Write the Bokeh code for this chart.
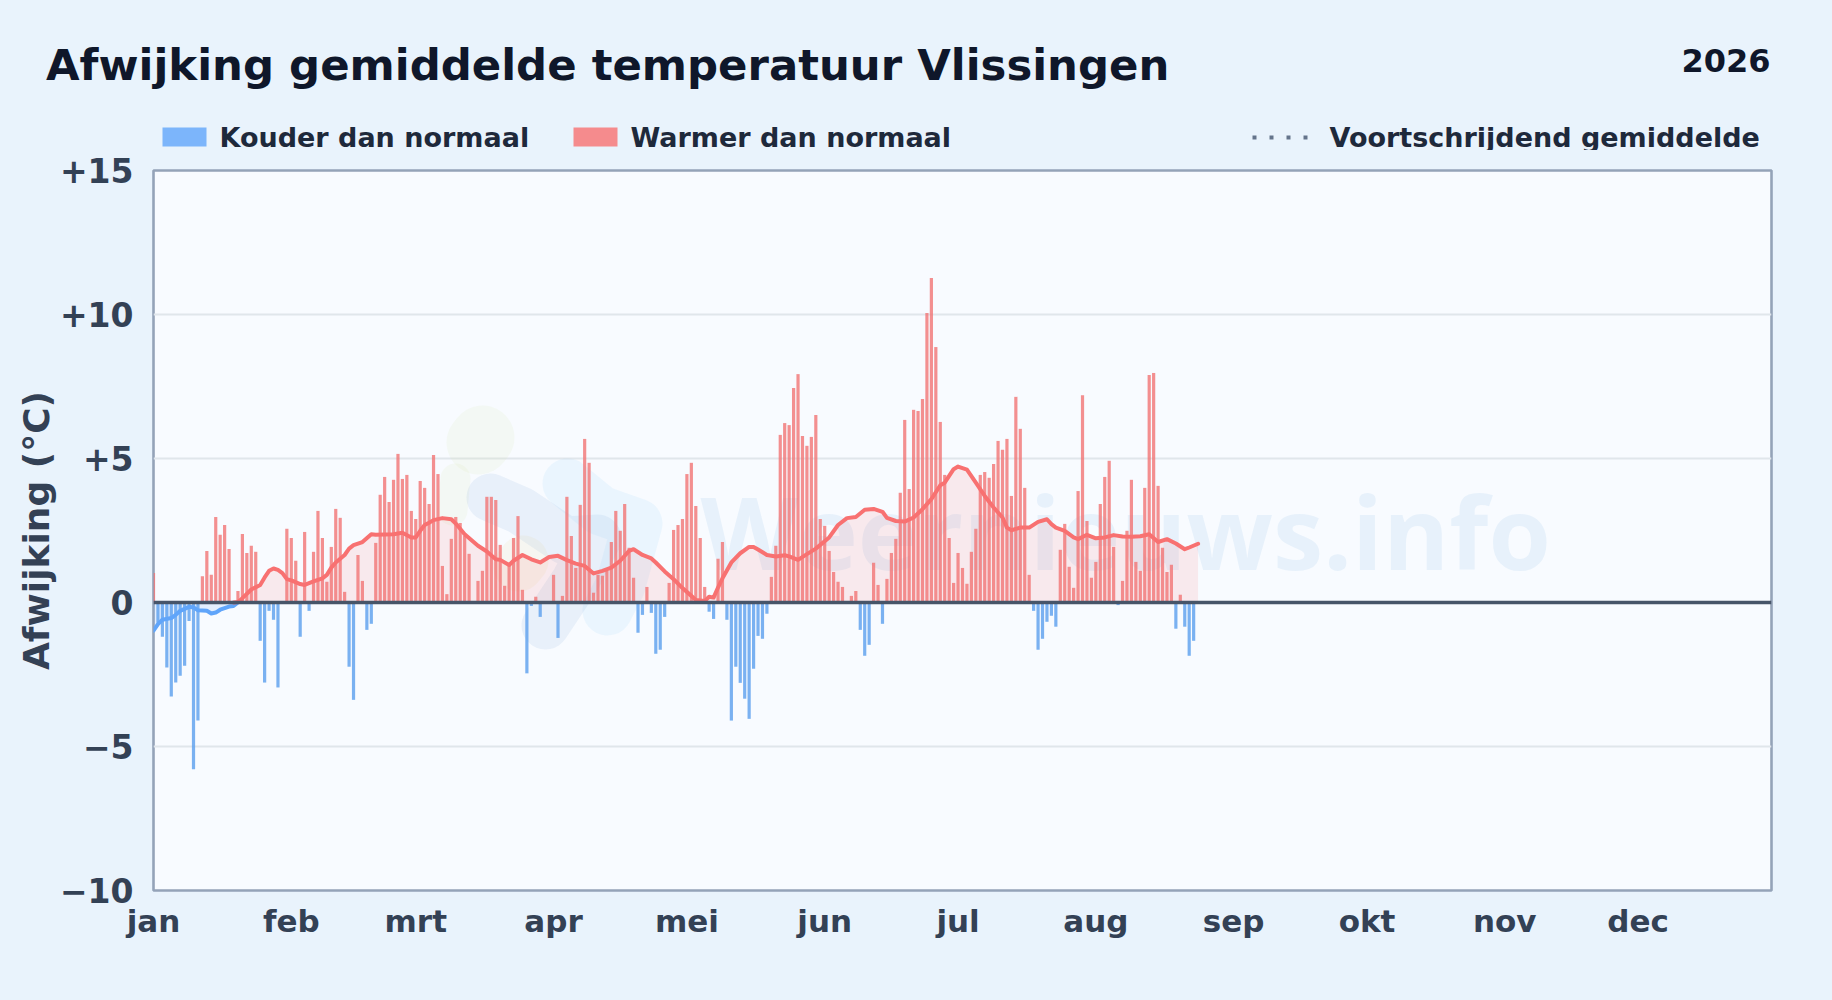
from bokeh.embed import file_html
from bokeh.resources import INLINE
from bokeh.plotting import figure
from bokeh.layouts import column
from bokeh.models import FixedTicker, Span, Range1d
from bokeh.core.properties import value
import numpy as np

MONTHS = ["jan", "feb", "mrt", "apr", "mei", "jun", "jul", "aug", "sep", "okt", "nov", "dec"]
MONTH_STARTS = [0, 31, 59, 90, 120, 151, 181, 212, 243, 273, 304, 334]
Y_TICKS = [-10, -5, 0, 5, 10, 15]
Y_LABELS = {-10: "\u221210", -5: "\u22125", 0: "0", 5: "+5", 10: "+10", 15: "+15"}

DEVIATION = [
    1.02, -0.7, -1.19, -2.26, -3.26, -2.78, -2.54, -2.2, -0.64, -5.79, -4.1,
    .91, 1.79, .96, 2.97, 2.35, 2.69, 1.86, 0, .40, 2.38, 1.72, 1.97, 1.76,
    -1.33, -2.78, -.29, -.6, -2.95, .05, 2.56, 2.24, 1.45, -1.19, 2.45, -.29, 1.76, 3.18, 2.24, .72,
    1.93, 3.25, 2.94, .37, -2.23, -3.38, 1.65, .75, -.95, -.74, 2.07, 3.74, 4.36, 3.49, 4.26, 5.16,
    4.29, 4.43, 3.18, 2.9, 4.22, 3.98, 3.42, 5.12, 4.46, 1.27, .29, 2.21, 2.97, 2.76, 2.31, 1.69,
    0, .75, 1.1, 3.67, 3.67, 3.56, 2.0, .58, 1.27, 2.24, 3.0, .44, -2.46, -.12, .2, -.5, 0, 0,
    .96, -1.23, .23, 3.67, 2.31, 1.2, 3.39, 5.68, 4.85, .34, .96, .93, 1.1, 2.1, 3.18, 2.49, 3.42,
    1.9, .86, -1.05, -.43, .54, -.36, -1.78, -1.64, -.5, .68, 2.52, 2.69, 2.9, 4.46, 4.85, 3.35,
    2.24, .54, -.32, -.57, 1.52, 2.1, -.6, -4.1, -2.23, -2.79, -3.34, -4.04, -2.3, -1.16, -1.26,
    -.39, .89, 1.97, 5.82, 6.23, 6.16, 7.45, 7.93, 5.78, 5.44, 5.75, 6.51, 2.9, 2.66, 1.79, 1.06,
    .72, .54, 0, .23, .4, -.95, -1.85, -1.47, 1.38, .61, -.74, .82, 1.72, 2.21, 3.81, 6.34, 3.94,
    6.69, 6.65, 7.07, 10.05, 11.27, 8.87, 6.27, 4.43, 2.24, .68, 1.72, 1.2, .65, 1.76, 2.56, 4.43,
    4.53, 4.33, 4.81, 5.61, 5.3, 5.68, 3.7, 7.14, 6.03, 3.98, .96, -.29, -1.64, -1.26, -.67, -.46,
    -.84, 1.83, 2.73, 1.24, .51, 3.87, 7.2, 2.83, .86, 1.41, 3.42, 4.36, 4.92, 1.93, -.09, .75,
    2.49, 4.26, 1.41, 1.1, 3.98, 7.9, 7.97, 4.05, 1.9, 1.06, 1.31, -.91, .27, -.84, -1.85, -1.33,
]

AVG_DAY = [0, 1, 2, 4, 5, 6, 8, 9, 10, 12, 13, 14, 15, 17, 18, 19, 20, 22, 24, 25, 26, 27, 28, 29, 30, 31,
           33, 34, 36, 38, 39, 40, 41, 43, 44, 45, 47, 49, 50, 54, 56, 58, 59, 60, 61, 62, 63, 65, 67, 68,
           70, 73, 75, 77, 78, 80, 81, 83, 85, 87, 89, 91, 93, 95, 97, 99, 101, 103, 105, 107, 108, 110,
           112, 113, 115, 117, 119, 121, 122, 124, 125, 126, 127, 128, 130, 132, 134, 135, 136, 138, 140,
           142, 143, 145, 147, 149, 152, 154, 156, 158, 160, 162, 164, 165, 167, 169, 171, 173, 175, 177,
           178, 180, 181, 183, 185, 187, 189, 191, 192, 193, 195, 197, 199, 201, 202, 203, 205, 207, 208,
           210, 212, 214, 216, 218, 220, 222, 224, 226, 228, 230, 232, 233, 235]
AVG_VAL = [-.98, -.75, -.6, -.54, -.43, -.29, -.15, -.17, -.27, -.29, -.38, -.35, -.25, -.14, -.12, .02, .15,
           .45, .61, .87, 1.1, 1.18, 1.13, 1.02, .81, .77, .64, .61, .73, .84, .96, 1.21, 1.39, 1.65, 1.87,
           1.99, 2.1, 2.37, 2.35, 2.37, 2.42, 2.26, 2.26, 2.49, 2.69, 2.77, 2.86, 2.93, 2.89, 2.74, 2.37,
           1.97, 1.77, 1.5, 1.48, 1.3, 1.45, 1.65, 1.5, 1.39, 1.58, 1.62, 1.47, 1.35, 1.27, 1.01, 1.1, 1.21,
           1.45, 1.79, 1.85, 1.65, 1.53, 1.39, 1.08, .81, .5, .23, .09, .05, .2, .17, .52, .84, 1.39, 1.71,
           1.93, 1.93, 1.84, 1.65, 1.6, 1.64, 1.6, 1.48, 1.68, 1.87, 2.26, 2.69, 2.93, 2.97, 3.22, 3.25,
           3.15, 2.94, 2.83, 2.81, 2.95, 3.24, 3.59, 4.07, 4.16, 4.63, 4.72, 4.61, 4.16, 3.7, 3.3, 2.95,
           2.6, 2.51, 2.6, 2.6, 2.8, 2.89, 2.72, 2.6, 2.49, 2.26, 2.2, 2.35, 2.23, 2.26, 2.34, 2.29, 2.28,
           2.3, 2.37, 2.1, 2.2, 2.05, 1.85, 1.91, 2.04]

# Decorative logo behind the chart: (colour, stroke width in px, page-pixel path)
LOGO = [
    ("#d5e8a8", 64, [(482, 437), (478, 442)]),
    ("#d5e8a8", 30, [(455, 478), (452, 510)]),
    ("#f2d48a", 50, [(523, 560), (518, 566)]),
    ("#7fa6d6", 48, [(490, 497), (520, 510), (565, 540), (597, 538), (575, 580), (545, 625)]),
    ("#8fcbf5", 50, [(567, 483), (600, 510), (637, 523), (620, 585), (607, 610)]),
]

BG = "#e9f3fc"
PLOT_BG = "#f8fbff"
RED = "#f87171"
BLUE = "#60a5fa"
W, H = 1832, 1000
HEAD = 150
LEFT, TOP, FW, FH = 153, 170, 1618, 720
XMAX = 364


def dx(px):
    return (px - LEFT) / FW * XMAX


def dy(py):
    return 15 - (py - TOP) / FH * 25


# ---------- header: title, year and legend ----------
h = figure(width=W, height=HEAD, x_range=Range1d(0, W), y_range=Range1d(HEAD, 0),
           output_backend="svg", toolbar_location=None, min_border=0,
           background_fill_color=BG, border_fill_color=BG, outline_line_color=None)
h.axis.visible = False
h.grid.visible = False


def head_text(x, y, s, size, color, align="left"):
    h.text(x=[x], y=[y - 0.42 * size], text=[s], text_font=value("DejaVu Sans"), text_font_style="bold",
           text_font_size=f"{size}px", text_color=color, text_align=align, text_baseline="alphabetic")


head_text(45.5, 82.5, "Afwijking gemiddelde temperatuur Vlissingen", 43.4, "#0f172a")
head_text(1770, 73.5, "2026", 32, "#0f172a", "right")
h.quad(left=[162], right=[206], top=[127], bottom=[146], fill_color=BLUE, fill_alpha=0.8, line_color=None)
head_text(219, 148, "Kouder dan normaal", 27, "#1e293b")
h.quad(left=[573], right=[617], top=[127], bottom=[146], fill_color=RED, fill_alpha=0.8, line_color=None)
head_text(630, 148, "Warmer dan normaal", 27, "#1e293b")
h.line([1252, 1307], [137, 137], line_color="#64748b", line_width=4, line_dash="4 13")
head_text(1329, 148, "Voortschrijdend gemiddelde", 27, "#1e293b")

# ---------- main chart ----------
p = figure(width=W, height=H - HEAD,
           x_range=Range1d(0, XMAX), y_range=Range1d(-10, 15),
           output_backend="svg", toolbar_location=None,
           min_border_left=LEFT, min_border_right=W - LEFT - FW,
           min_border_top=TOP - HEAD, min_border_bottom=H - TOP - FH)
p.background_fill_color = PLOT_BG
p.border_fill_color = BG
p.outline_line_color = "#94a3b8"
p.outline_line_width = 2.6

p.xgrid.visible = False
p.ygrid.grid_line_color = "#e0e6eb"
p.ygrid.grid_line_width = 2
p.ygrid.ticker = FixedTicker(ticks=[-5, 5, 10])

for ax, size in ((p.xaxis[0], "31px"), (p.yaxis[0], "33px")):
    ax.axis_line_color = None
    ax.major_tick_line_color = None
    ax.minor_tick_line_color = None
    ax.major_tick_out = 0
    ax.major_tick_in = 0
    ax.minor_tick_out = 0
    ax.minor_tick_in = 0
    ax.major_label_text_font = "DejaVu Sans"
    ax.major_label_text_font_style = "bold"
    ax.major_label_text_color = "#334155"
    ax.major_label_text_font_size = size

p.xaxis[0].ticker = FixedTicker(ticks=MONTH_STARTS)
p.xaxis[0].major_label_overrides = dict(zip(MONTH_STARTS, MONTHS))
p.xaxis[0].major_label_standoff = 12
p.yaxis[0].ticker = FixedTicker(ticks=Y_TICKS)
p.yaxis[0].major_label_overrides = Y_LABELS
p.yaxis[0].major_label_standoff = 20
p.yaxis[0].axis_label = "Afwijking (\u00b0C)"
p.yaxis[0].axis_label_text_font = "DejaVu Sans"
p.yaxis[0].axis_label_text_font_style = "bold"
p.yaxis[0].axis_label_text_font_size = "36px"
p.yaxis[0].axis_label_text_color = "#334155"
p.yaxis[0].axis_label_standoff = 0

for color, w, path in LOGO:
    p.line([dx(a) for a, _ in path], [dy(b) for _, b in path], line_color=color, line_width=w,
           line_alpha=0.12, line_cap="round", line_join="round")

p.text(x=[dx(700)], y=[dy(530)], text=["Weernieuws.info"], text_font=value("Open Sans"),
       text_font_style="bold", text_font_size="101px", text_color="#5b9bd5", text_alpha=0.1,
       text_baseline="alphabetic")

days = np.arange(len(DEVIATION))
dev = np.array(DEVIATION, dtype=float)
ad = np.array(AVG_DAY, dtype=float)
av = np.array(AVG_VAL, dtype=float)

p.varea(x=ad, y1=0, y2=np.maximum(av, 0), fill_color=RED, fill_alpha=0.13)
p.varea(x=ad, y1=0, y2=np.minimum(av, 0), fill_color=BLUE, fill_alpha=0.13)

pos = dev > 0
neg = dev < 0
p.vbar(x=days[pos], top=dev[pos], bottom=0, width=0.72, fill_color="#f17474", fill_alpha=0.8, line_color=None)
p.vbar(x=days[neg], top=0, bottom=dev[neg], width=0.72, fill_color="#5a9fee", fill_alpha=0.8, line_color=None)

first_pos = int(np.argmax(av > 0))
p.line(ad[:first_pos + 1], np.minimum(av[:first_pos + 1], 0), line_color=BLUE, line_width=4,
       line_join="round", line_cap="round")
p.line(ad[first_pos - 1:], np.maximum(av[first_pos - 1:], 0), line_color=RED, line_width=4,
       line_join="round", line_cap="round")

p.add_layout(Span(location=0, dimension="width", line_color="#475569", line_width=3.4, level="overlay"))

if "frame_align" in h.properties():
    h.frame_align = False
    p.frame_align = False
    roots = column(h, p, spacing=0)
else:
    roots = [h, p]

html = file_html(roots, INLINE)
html = html.replace("<head>", "<head><style>html,body{margin:0 !important;padding:0;background:#e9f3fc;overflow:hidden}</style>", 1)
open("out.html", "w").write(html)
